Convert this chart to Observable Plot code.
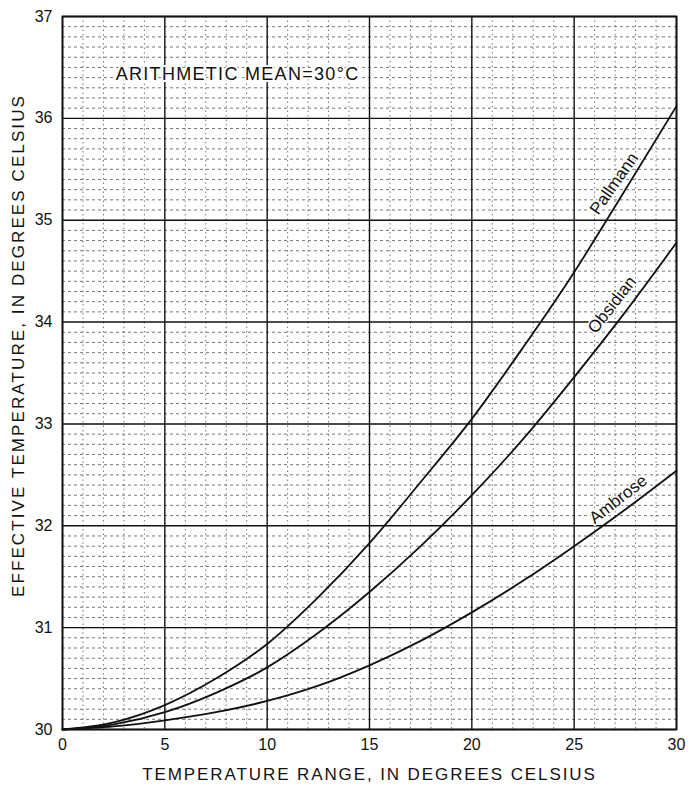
<!DOCTYPE html>
<html>
<head>
<meta charset="utf-8">
<script src="https://cdn.jsdelivr.net/npm/d3@7"></script>
<script src="https://cdn.jsdelivr.net/npm/@observablehq/plot@0.6"></script>
<style>
  body { margin: 0; background: #fff; }
  #chart { width: 696px; height: 789px; }
</style>
</head>
<body>
<div id="chart"></div>
<script>
// Temperature range (°C)
const xs = [0, 2.5, 5, 7.5, 10, 12.5, 15, 17.5, 20, 22.5, 25, 27.5, 30];
// Effective temperature (°C) for each formula
const pallmann = [30, 30.07, 30.24, 30.5, 30.84, 31.3, 31.83, 32.43, 33.05, 33.75, 34.49, 35.3, 36.12];
const obsidian = [30, 30.05, 30.17, 30.36, 30.61, 30.95, 31.35, 31.8, 32.3, 32.85, 33.46, 34.1, 34.78];
const ambrose  = [30, 30.03, 30.09, 30.17, 30.28, 30.43, 30.63, 30.87, 31.15, 31.46, 31.8, 32.16, 32.54];

const xTicks = [0, 5, 10, 15, 20, 25, 30];
const yTicks = [30, 31, 32, 33, 34, 35, 36, 37];

const seriesNames = ["Pallmann", "Obsidian", "Ambrose"];
const seriesValues = [pallmann, obsidian, ambrose];
// label anchor positions (data units) and rotation
const labelX = [26.95, 26.85, 27.15];
const labelY = [35.36, 34.17, 32.26];
const labelAngle = [-55, -52, -38];

const xTitle = "TEMPERATURE RANGE, IN DEGREES CELSIUS";
const yTitle = "EFFECTIVE TEMPERATURE, IN DEGREES CELSIUS";
const note = "ARITHMETIC MEAN=30°C";

const rows = [];
seriesNames.forEach((name, i) => xs.forEach((x, j) => rows.push({series: name, x, y: seriesValues[i][j]})));
const labels = seriesNames.map((name, i) => ({name, x: labelX[i], y: labelY[i], a: labelAngle[i]}));

const minorX = d3.range(0, 30.001, 1).filter(v => v % 5 !== 0);
const minorY = d3.range(300, 370.001, 1).map(v => v / 10).filter(v => Math.abs(v - Math.round(v)) > 1e-6);

const font = "'Liberation Sans', Arial, Helvetica, sans-serif";

const chart = Plot.plot({
  width: 696,
  height: 789,
  marginLeft: 62,
  marginRight: 20,
  marginTop: 16,
  marginBottom: 60,
  style: {fontFamily: font, fontSize: "16px", background: "#fff", color: "#111"},
  x: {domain: [0, 30], ticks: xTicks, tickSize: 0, tickPadding: 9, tickFormat: "d", label: null},
  y: {domain: [30, 37], ticks: yTicks, tickSize: 0, tickPadding: 10, tickFormat: "d", label: null},
  marks: [
    Plot.ruleX(minorX, {stroke: "#555", strokeWidth: 1, strokeDasharray: "1.5,3", strokeOpacity: 0.8}),
    Plot.ruleY(minorY, {stroke: "#555", strokeWidth: 1, strokeDasharray: "3,3", strokeOpacity: 0.8}),
    Plot.ruleX(xTicks, {stroke: "#111", strokeWidth: 1.4}),
    Plot.ruleY(yTicks, {stroke: "#111", strokeWidth: 1.4}),
    Plot.frame({stroke: "#111", strokeWidth: 1.8}),
    Plot.axisX({ticks: xTicks, tickSize: 0, tickPadding: 9, tickFormat: "d", label: null, fontSize: 16}),
    Plot.axisY({ticks: yTicks, tickSize: 0, tickPadding: 10, tickFormat: "d", label: null, fontSize: 16}),
    Plot.text([xTitle], {frameAnchor: "bottom", dy: 50, text: d => d, fontSize: 17,
      textAnchor: "middle", fill: "#111"}),
    Plot.text([yTitle], {frameAnchor: "left", y: [33.77], dx: -44, text: d => d, rotate: -90,
      textAnchor: "middle", fontSize: 17, fill: "#111"}),
    Plot.text([note], {x: 2.6, y: 36.43, text: d => d, textAnchor: "start",
      fontSize: 18, fill: "#111", stroke: "#fff", strokeWidth: 4, paintOrder: "stroke"}),
    Plot.line(rows, {x: "x", y: "y", z: "series", curve: "monotone-x", stroke: "#111", strokeWidth: 1.8}),
    Plot.text(labels, {x: "x", y: "y", text: "name", rotate: "a", fontSize: 17, fill: "#111",
      stroke: "#fff", strokeWidth: 3, paintOrder: "stroke"})
  ]
});
// letter spacing for the titles (texts stay as real text)
chart.querySelectorAll("text").forEach(t => {
  const s = t.textContent;
  if (s === xTitle) t.setAttribute("letter-spacing", "1.9");
  if (s === yTitle) t.setAttribute("letter-spacing", "2.1");
  if (s === note) t.setAttribute("letter-spacing", "1.3");
});
document.getElementById("chart").appendChild(chart);
</script>
</body>
</html>
